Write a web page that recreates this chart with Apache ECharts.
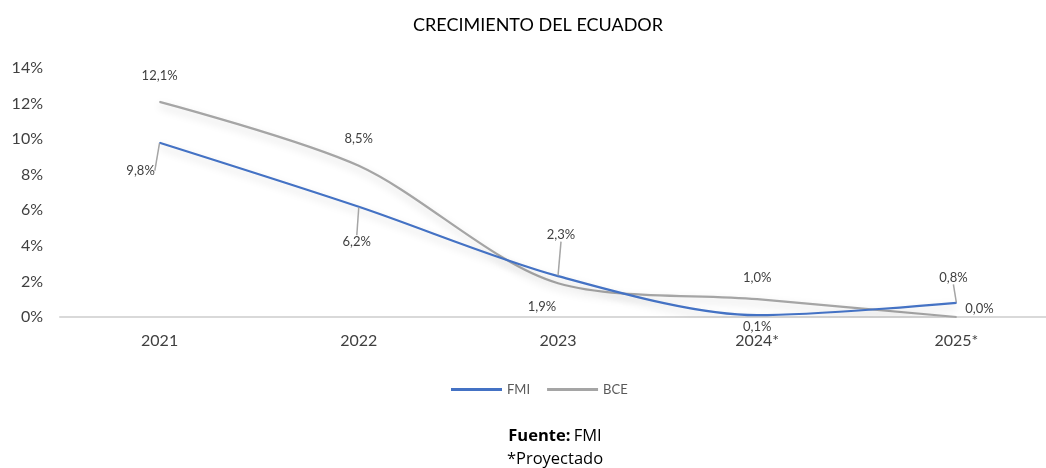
<!DOCTYPE html>
<html>
<head>
<meta charset="utf-8">
<script src="https://cdn.jsdelivr.net/npm/echarts@6/dist/echarts.min.js"></script>
<style>
  html, body { margin: 0; padding: 0; background: #fff; }
  #chart { width: 1046px; height: 468px; }
</style>
</head>
<body>
<div id="chart"></div>
<script>
// datos
const years = ['2021', '2022', '2023', '2024*', '2025*']
const fmi = [9.8, 6.2, 2.3, 0.1, 0.8]
const bce = [12.1, 8.5, 1.9, 1.0, 0.0]
const yTicks = [0, 2, 4, 6, 8, 10, 12, 14]

// desplazamiento de etiquetas (px desde el punto) y si llevan línea guía
const fmiLabelShift = [[-19, 28], [-2, 35], [3, -41], [0, 12], [-3, -25]]
const fmiLabelLine = [true, true, true, false, true]
const bceLabelShift = [[0, -26], [0, -27], [-16, 24], [0, -21], [23, -8]]
const bceLabelLine = [false, false, false, false, false]

const chart = echarts.init(document.getElementById('chart'))

function fmt(v) {
  return v.toFixed(1).replace('.', ',') + '%'
}

function makeData(values, lines) {
  return values.map((v, i) => ({
    value: v,
    labelLine: { show: lines[i] }
  }))
}

function layoutFn(shift) {
  return function (params) {
    const s = shift[params.dataIndex]
    const r = params.rect
    return {
      x: r.x + r.width / 2 + s[0],
      y: r.y + r.height / 2 + s[1],
      align: 'center',
      verticalAlign: 'middle'
    }
  }
}

const labelStyle = {
  show: true,
  fontFamily: 'Lato',
  fontSize: 13,
  color: '#404040',
  formatter: p => fmt(p.value)
}

chart.setOption({
  animation: false,
  title: {
    text: 'CRECIMIENTO DEL ECUADOR',
    left: 408,
    top: 11,
    textStyle: { fontFamily: 'Lato', fontSize: 18, fontWeight: 'normal', color: '#000' }
  },
  grid: { left: 60, top: 68, width: 996, height: 249, outerBoundsMode: 'none', containLabel: false },
  legend: {
    bottom: 67,
    left: 446,
    icon: 'rect',
    itemWidth: 51,
    itemHeight: 3,
    itemGap: 17,
    textStyle: { fontFamily: 'Lato', fontSize: 13, color: '#595959' },
    data: ['FMI', 'BCE']
  },
  xAxis: {
    type: 'category',
    data: years,
    boundaryGap: true,
    axisLine: { lineStyle: { color: '#D9D9D9', width: 2 } },
    axisTick: { show: false },
    axisLabel: { fontFamily: 'Lato', fontSize: 16, color: '#404040', margin: 16 }
  },
  yAxis: {
    type: 'value',
    min: yTicks[0],
    max: yTicks[yTicks.length - 1],
    interval: 2,
    splitLine: { show: false },
    axisLine: { show: false },
    axisTick: { show: false },
    axisLabel: {
      fontFamily: 'Lato', fontSize: 16, color: '#404040', margin: 17,
      formatter: v => v + '%'
    }
  },
  series: [
    {
      name: 'FMI',
      type: 'line',
      data: makeData(fmi, fmiLabelLine),
      smooth: 0.3,
      symbol: 'circle',
      symbolSize: 1,
      itemStyle: { color: '#4472C4' },
      lineStyle: {
        color: '#4472C4', width: 2.25,
        shadowColor: 'rgba(0,0,0,0.18)', shadowBlur: 8, shadowOffsetY: 4
      },
      label: labelStyle,
      labelLine: { show: true, lineStyle: { color: '#A5A5A5', width: 1.5 } },
      labelLayout: layoutFn(fmiLabelShift),
      z: 3
    },
    {
      name: 'BCE',
      type: 'line',
      data: makeData(bce, bceLabelLine),
      smooth: 0.3,
      symbol: 'circle',
      symbolSize: 1,
      itemStyle: { color: '#A5A5A5' },
      lineStyle: {
        color: '#A5A5A5', width: 2.25,
        shadowColor: 'rgba(0,0,0,0.18)', shadowBlur: 8, shadowOffsetY: 4
      },
      label: labelStyle,
      labelLine: { show: false },
      labelLayout: layoutFn(bceLabelShift),
      z: 2
    }
  ],
  graphic: [
    {
      type: 'text',
      x: 555,
      y: 428,
      style: {
        text: '{b|Fuente:} {n|FMI}',
        align: 'center',
        rich: {
          b: { fontFamily: 'Open Sans', fontSize: 16.5, fontWeight: 'bold', fill: '#000' },
          n: { fontFamily: 'Open Sans', fontSize: 16.5, fill: '#000' }
        }
      }
    },
    {
      type: 'text',
      x: 555,
      y: 451,
      style: { text: '*Proyectado', align: 'center', fontFamily: 'Open Sans', fontSize: 16.5, fill: '#000' }
    }
  ]
})
</script>
</body>
</html>
